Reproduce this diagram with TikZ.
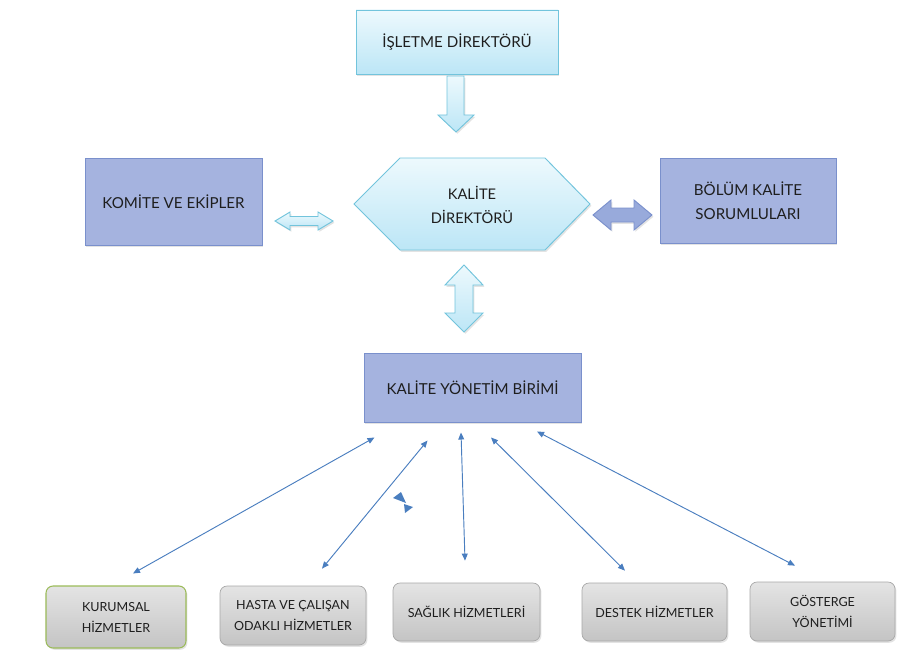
\documentclass[tikz,border=0pt]{standalone}
\usepackage{fontspec}
\setmainfont{Lato}
\usepackage{xcolor}
\usetikzlibrary{arrows.meta,calc,shadows}

\definecolor{skytop}{HTML}{EDF9FD}
\definecolor{skybot}{HTML}{BCE6F6}
\definecolor{skyedge}{HTML}{72C4DC}
\definecolor{lavfill}{HTML}{A5B3DF}
\definecolor{lavedge}{HTML}{7A90CC}
\definecolor{lavarrowfill}{HTML}{98AADB}
\definecolor{greytop}{HTML}{E4E4E4}
\definecolor{greybot}{HTML}{C4C4C4}
\definecolor{greyedge}{HTML}{A8A8A8}
\definecolor{kurumedge}{HTML}{9BBB59}
\definecolor{linkblue}{HTML}{4A7EBF}
\definecolor{inkgrey}{HTML}{1E1E1E}

\tikzset{
  softshadow/.style={drop shadow={opacity=0.22,shadow xshift=1.2pt,shadow yshift=-1.5pt}},
  skybox/.style={draw=skyedge,line width=0.8pt,top color=skytop,bottom color=skybot,
    softshadow,text=inkgrey,align=center,font=\fontsize{12.9}{16}\selectfont},
  lavbox/.style={draw=lavedge,line width=0.8pt,fill=lavfill,
    softshadow,text=inkgrey,align=center,font=\fontsize{12.9}{20.4}\selectfont},
  unitbox/.style={draw=greyedge,line width=0.6pt,rounded corners=6pt,top color=greytop,
    bottom color=greybot,softshadow,text=inkgrey,align=center,
    font=\fontsize{10.7}{18}\selectfont},
  skyarrow/.style={draw=skyedge,line width=0.8pt,top color=skytop,bottom color=skybot,softshadow},
  lavarrow/.style={draw=lavedge,line width=0.8pt,fill=lavarrowfill,softshadow},
  link/.style={draw=linkblue,line width=0.8pt,{Triangle[length=6pt,width=5pt]}-{Triangle[length=6pt,width=5pt]}}
}

\begin{document}
\begin{tikzpicture}[x=0.03cm,y=-0.03cm]
  \useasboundingbox (0,0) rectangle (906,650);

  % upper level
  \node[skybox,minimum width=6.06cm,minimum height=1.92cm] (isletme) at (457,42) {İŞLETME DİREKTÖRÜ};
  \node[lavbox,minimum width=5.31cm,minimum height=2.61cm] (komite) at (173.5,201.5) {KOMİTE VE EKİPLER};
  \node[lavbox,minimum width=5.28cm,minimum height=2.55cm] (bolum) at (748,200.5) {BÖLÜM KALİTE\\SORUMLULARI};

  % hexagon
  \path[skyarrow] (354,204) -- (400,158) -- (545,158) -- (590,204) -- (545,250) -- (400,250) -- cycle;
  \node[text=inkgrey,align=center,font=\fontsize{12.5}{20.4}\selectfont] (kalitedir) at (472,205) {KALİTE\\DİREKTÖRÜ};

  \node[lavbox,minimum width=6.51cm,minimum height=2.07cm] (birim) at (472.5,387.5) {KALİTE YÖNETİM BİRİMİ};

  % block arrows
  \path[skyarrow] (447,76) -- (464,76) -- (464,115) -- (474,115) -- (456,132) -- (438,115) -- (447,115) -- cycle;
  \path[skyarrow] (464,265) -- (483,285) -- (473,285) -- (473,313) -- (483,313) -- (464,332)
    -- (445,313) -- (455,313) -- (455,285) -- (445,285) -- cycle;
  \path[skyarrow] (275,221) -- (290,212) -- (290,216.5) -- (318,216.5) -- (318,212) -- (333,221)
    -- (318,230) -- (318,225.5) -- (290,225.5) -- (290,230) -- cycle;
  \path[lavarrow] (593,215) -- (611,200) -- (611,208) -- (634,208) -- (634,200) -- (652,215)
    -- (634,230) -- (634,222) -- (611,222) -- (611,230) -- cycle;

  % service units
  \node[unitbox,draw=kurumedge,line width=0.9pt,minimum width=4.2cm,minimum height=1.86cm] (kurumsal) at (116,617) {KURUMSAL\\HİZMETLER};
  \node[unitbox,minimum width=4.38cm,minimum height=1.77cm] (hasta) at (293,615.5) {HASTA VE ÇALIŞAN\\ODAKLI HİZMETLER};
  \node[unitbox,minimum width=4.41cm,minimum height=1.74cm] (saglik) at (466.5,612) {SAĞLIK HİZMETLERİ};
  \node[unitbox,minimum width=4.35cm,minimum height=1.74cm] (destek) at (654.5,612) {DESTEK HİZMETLER};
  \node[unitbox,minimum width=4.35cm,minimum height=1.77cm] (gosterge) at (822.5,611.5) {GÖSTERGE\\YÖNETİMİ};

  % links
  \draw[link] ($(birim.south west)+(11,15)$) -- ($(kurumsal.north)+(17,-12)$);
  \draw[link] ($(birim.south west)+(64,18)$) -- ($(hasta.north)+(29,-17)$);
  \draw[link] ($(birim.south)+(-11.5,10)$) -- ($(saglik.north)+(-1.5,-22)$);
  \draw[link] ($(birim.south)+(18.5,15)$) -- ($(destek.north)+(-29.5,-12)$);
  \draw[link] ($(birim.south)+(64.5,9)$) -- ($(gosterge.north)+(-27.5,-16)$);

  % stray tips
  \fill[linkblue] (393,498) -- (401,492) -- (406,503) -- cycle;
  \fill[linkblue] (404,504) -- (405,513) -- (413,507) -- cycle;
\end{tikzpicture}
\end{document}
